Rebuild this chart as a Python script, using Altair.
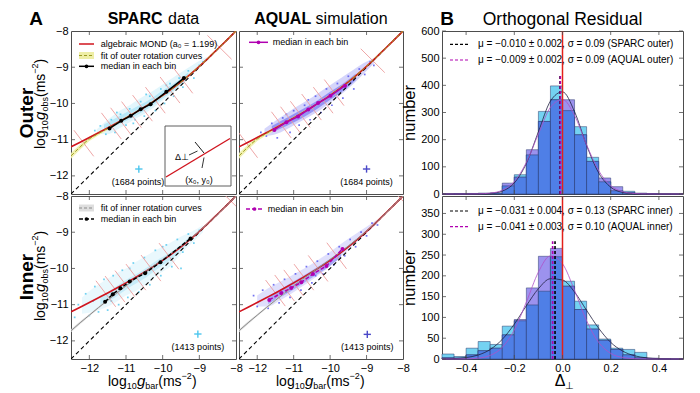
import altair as alt
import pandas as pd

FONT = "Liberation Sans"
RED = "#d0141e"
PINK = "#ec9c9c"
CYAN = "#4cc6ee"
AQC = "#5050ee"
MAG = "#b000b0"
OLIVE = "#9a9a22"
YEL = "#eeeea6"
GREY = "#8a8a8a"
LGREY = "#dedede"
FRAME = "#4d4d4d"
H_CYAN = "#74d2f2"
H_LAV = "#9c92ee"
H_BLUE = "#4f7fe6"
H_EDGE = "#28386a"

W_L, W_M, H = 165, 164, 163
W_H = 241
W_GAP = 33

# ---------------- scatter panels: curves ----------------
mond_x = [-12.5, -12.25, -12.0, -11.75, -11.5, -11.25, -11.0, -10.75, -10.5, -10.25,
          -10.0, -9.75, -9.5, -9.25, -9.0, -8.75, -8.5, -8.25, -8.0]
mond_y = [-11.199, -11.071, -10.941, -10.809, -10.676, -10.539, -10.399, -10.255, -10.104, -9.945,
          -9.777, -9.598, -9.405, -9.197, -8.975, -8.741, -8.497, -8.250, -8.0]
unity_x = [-12.5, -8.0]
unity_y = [-12.5, -8.0]

outer_fit_y = [-11.45, -11.20, -10.98, -10.83, -10.69, -10.545, -10.40, -10.255, -10.104, -9.945,
               -9.777, -9.598, -9.405, -9.197, -8.975, -8.741, -8.497, -8.25, -8.0]
outer_fit_lo = [-11.53, -11.27, -11.04, -10.88, -10.73, -10.58, -10.43, -10.285, -10.134, -9.975,
                -9.807, -9.628, -9.435, -9.227, -9.005, -8.771, -8.527, -8.28, -8.03]
outer_fit_hi = [-11.37, -11.13, -10.92, -10.78, -10.65, -10.51, -10.37, -10.225, -10.074, -9.915,
                -9.747, -9.568, -9.375, -9.167, -8.945, -8.711, -8.467, -8.22, -7.97]
inner_fit_y = [-11.72, -11.50, -11.29, -11.08, -10.88, -10.68, -10.48, -10.29, -10.11, -9.93,
               -9.75, -9.57, -9.38, -9.18, -8.97, -8.74, -8.50, -8.25, -8.0]
inner_fit_lo = [-11.76, -11.54, -11.32, -11.11, -10.91, -10.70, -10.50, -10.31, -10.13, -9.95,
                -9.77, -9.59, -9.40, -9.20, -8.99, -8.76, -8.52, -8.27, -8.02]
inner_fit_hi = [-11.68, -11.46, -11.26, -11.05, -10.85, -10.66, -10.46, -10.27, -10.09, -9.91,
                -9.73, -9.55, -9.36, -9.16, -8.95, -8.72, -8.48, -8.23, -7.98]

# medians in each bin
so_med_x = [-11.45, -11.13, -10.87, -10.60, -10.33, -9.90, -9.42]
so_med_y = [-10.69, -10.48, -10.34, -10.16, -10.02, -9.68, -9.30]
ao_med_x = [-11.53, -11.20, -10.88, -10.60, -10.33, -9.99, -9.59]
ao_med_y = [-10.73, -10.52, -10.36, -10.17, -9.99, -9.79, -9.51]
si_med_x = [-11.57, -11.36, -11.15, -10.90, -10.48, -10.06, -9.24]
si_med_y = [-10.92, -10.71, -10.55, -10.36, -10.13, -9.83, -9.17]
ai_med_x = [-11.67, -11.34, -11.07, -10.79, -10.47, -10.10, -9.66]
ai_med_y = [-10.87, -10.68, -10.54, -10.38, -10.15, -9.93, -9.46]

# data clouds (envelopes of the scatter)
so_cloud_x = [-11.8, -11.5, -11.2, -10.9, -10.6, -10.3, -10.0, -9.7, -9.4, -9.1, -8.8]
so_cloud_hi = [-10.72, -10.45, -10.22, -10.05, -9.85, -9.68, -9.48, -9.28, -9.08, -8.88, -8.72]
so_cloud_lo = [-10.82, -10.85, -10.70, -10.52, -10.35, -10.15, -9.92, -9.68, -9.42, -9.12, -8.82]
so_core_x = [-11.6, -11.2, -10.8, -10.4, -10.0, -9.6, -9.3]
so_core_hi = [-10.58, -10.36, -10.14, -9.92, -9.64, -9.38, -9.14]
so_core_lo = [-10.76, -10.58, -10.38, -10.14, -9.86, -9.56, -9.30]

ao_cloud_x = [-11.8, -11.5, -11.2, -10.9, -10.6, -10.3, -10.0, -9.7, -9.4, -9.1, -8.8]
ao_cloud_hi = [-10.70, -10.48, -10.28, -10.08, -9.90, -9.70, -9.50, -9.30, -9.10, -8.90, -8.75]
ao_cloud_lo = [-10.90, -10.85, -10.72, -10.55, -10.38, -10.20, -9.98, -9.75, -9.50, -9.20, -8.90]
ao_core_x = [-11.6, -11.2, -10.8, -10.4, -10.0, -9.6, -9.3]
ao_core_hi = [-10.62, -10.40, -10.18, -9.95, -9.68, -9.42, -9.18]
ao_core_lo = [-10.80, -10.62, -10.42, -10.18, -9.90, -9.62, -9.36]

si_cloud_x = [-12.2, -11.9, -11.6, -11.3, -11.0, -10.7, -10.4, -10.1, -9.8, -9.5, -9.2, -8.9]
si_cloud_hi = [-10.80, -10.55, -10.35, -10.15, -10.00, -9.80, -9.62, -9.45, -9.30, -9.12, -8.98, -8.80]
si_cloud_lo = [-11.25, -11.20, -11.10, -10.95, -10.75, -10.60, -10.40, -10.15, -9.95, -9.60, -9.30, -9.00]
si_core_x = [-11.7, -11.3, -10.9, -10.5, -10.1, -9.7, -9.3]
si_core_hi = [-10.80, -10.52, -10.26, -10.02, -9.74, -9.50, -9.16]
si_core_lo = [-11.02, -10.80, -10.52, -10.28, -9.98, -9.70, -9.30]

ai_cloud_x = [-12.0, -11.7, -11.4, -11.1, -10.8, -10.5, -10.2, -9.9, -9.6, -9.3, -9.0, -8.7]
ai_cloud_hi = [-10.75, -10.55, -10.38, -10.22, -10.05, -9.88, -9.68, -9.47, -9.25, -9.05, -8.85, -8.65]
ai_cloud_lo = [-11.05, -11.05, -10.90, -10.72, -10.52, -10.32, -10.10, -9.85, -9.58, -9.30, -9.03, -8.75]
ai_core_x = [-11.7, -11.3, -10.9, -10.5, -10.1, -9.7]
ai_core_hi = [-10.78, -10.54, -10.30, -10.06, -9.80, -9.52]
ai_core_lo = [-10.98, -10.76, -10.52, -10.26, -10.00, -9.70]

# scattered individual points around each cloud
so_pts_x = [-11.85, -11.7, -11.55, -11.4, -11.3, -11.15, -11.0, -10.9, -10.75, -10.6, -10.5, -10.35,
            -10.2, -10.05, -9.95, -9.8, -9.7, -9.55, -9.45, -9.3, -9.15, -9.0, -8.9, -10.45, -11.25,
            -10.8, -9.9]
so_pts_y = [-10.75, -10.62, -10.85, -10.45, -10.8, -10.3, -10.6, -10.15, -10.45, -9.95, -10.35, -9.8,
            -10.2, -9.6, -10.0, -9.45, -9.8, -9.3, -9.55, -9.1, -9.3, -8.95, -8.85, -9.75, -10.25,
            -10.55, -9.5]
ao_pts_x = [-11.9, -11.75, -11.6, -11.45, -11.3, -11.1, -11.0, -10.85, -10.7, -10.55, -10.4, -10.25,
            -10.1, -9.95, -9.8, -9.65, -9.5, -9.35, -9.2, -9.05, -8.9, -8.8, -10.6, -11.2]
ao_pts_y = [-10.8, -10.9, -10.55, -10.95, -10.4, -10.8, -10.2, -10.6, -10.05, -10.45, -9.8, -10.25,
            -9.6, -10.05, -9.45, -9.85, -9.25, -9.6, -9.05, -9.2, -8.85, -8.95, -9.9, -10.3]
si_pts_x = [-12.3, -12.1, -12.0, -11.85, -11.75, -11.6, -11.5, -11.35, -11.2, -11.1, -10.95, -10.8,
            -10.65, -10.5, -10.35, -10.2, -10.05, -9.9, -9.75, -9.6, -9.45, -9.3, -9.15, -9.0,
            -10.0, -10.9, -11.9, -11.4, -12.4, -9.5]
si_pts_y = [-11.0, -10.7, -11.3, -10.5, -11.2, -10.3, -11.15, -10.2, -11.0, -10.05, -10.8, -9.85,
            -10.65, -9.7, -10.45, -9.5, -10.2, -9.35, -9.95, -9.2, -9.55, -9.05, -9.3, -8.95,
            -9.4, -10.0, -10.9, -10.9, -11.35, -10.0]
ai_pts_x = [-12.1, -12.0, -11.85, -11.7, -11.55, -11.4, -11.25, -11.1, -10.95, -10.8, -10.65, -10.5,
            -10.35, -10.2, -10.05, -9.9, -9.75, -9.6, -9.45, -9.3, -9.15, -9.0, -8.85, -8.7,
            -11.2, -10.4]
ai_pts_y = [-10.75, -11.05, -10.6, -11.1, -10.45, -10.95, -10.3, -10.8, -10.15, -10.6, -9.95, -10.4,
            -9.8, -10.15, -9.6, -9.9, -9.4, -9.65, -9.2, -9.4, -9.0, -9.1, -8.75, -8.8,
            -10.65, -10.2]

# bin-boundary segments (x1, y1, x2, y2)
so_segs = [(-12.42, -10.74, -11.88, -11.46), (-11.67, -10.26, -11.13, -10.98),
           (-11.42, -10.12, -10.88, -10.84), (-11.12, -9.95, -10.58, -10.67),
           (-10.82, -9.77, -10.28, -10.49), (-10.47, -9.55, -9.93, -10.27),
           (-10.07, -9.27, -9.53, -9.99), (-9.72, -9.00, -9.18, -9.72),
           (-8.78, -8.12, -8.12, -8.78)]
ao_segs = [(-12.53, -10.78, -11.99, -11.50), (-11.61, -10.23, -11.07, -10.95),
           (-11.36, -10.09, -10.82, -10.81), (-11.09, -9.94, -10.55, -10.66),
           (-10.78, -9.74, -10.24, -10.46), (-10.46, -9.55, -9.92, -10.27),
           (-10.16, -9.34, -9.62, -10.06), (-9.16, -8.49, -8.50, -9.15)]
si_segs = [(-11.82, -10.34, -11.28, -11.06), (-11.57, -10.21, -11.03, -10.93),
           (-11.30, -10.06, -10.76, -10.78), (-11.00, -9.88, -10.46, -10.60),
           (-10.59, -9.63, -10.05, -10.35), (-10.10, -9.30, -9.56, -10.02),
           (-8.47, -7.81, -7.81, -8.47)]
ai_segs = [(-11.77, -10.32, -11.23, -11.04), (-11.52, -10.18, -10.98, -10.90),
           (-11.27, -10.04, -10.73, -10.76), (-10.99, -9.88, -10.45, -10.60),
           (-10.60, -9.64, -10.06, -10.36), (-10.09, -9.29, -9.55, -10.01),
           (-8.40, -7.74, -7.74, -8.40)]

# typical error crosses (x, y, half-width) and point-count labels (x, y)
so_cross = (-10.65, -11.81, 0.10)
ao_cross = (-9.00, -11.81, 0.10)
si_cross = (-9.04, -11.81, 0.10)
ai_cross = (-8.98, -11.82, 0.10)
so_label = (-10.67, -12.16, "(1684 points)")
ao_label = (-9.00, -12.16, "(1684 points)")
si_label = (-9.04, -12.16, "(1413 points)")
ai_label = (-8.98, -12.17, "(1413 points)")

# ---------------- histograms ----------------
BIN_W = 0.05
hist_bins = [-0.50, -0.45, -0.40, -0.35, -0.30, -0.25, -0.20, -0.15, -0.10, -0.05,
             0.00, 0.05, 0.10, 0.15, 0.20, 0.25, 0.30, 0.35, 0.40, 0.45]
sparc_outer_counts = [0, 1, 2, 3, 3, 30, 71, 144, 304, 398, 307, 248, 135, 45, 12, 10, 3, 1, 0, 0]
aqual_outer_counts = [0, 1, 1, 2, 3, 40, 62, 163, 267, 347, 347, 218, 120, 59, 27, 5, 2, 1, 0, 0]
sparc_inner_counts = [12, 6, 26, 42, 35, 79, 92, 130, 163, 246, 187, 139, 82, 48, 26, 23, 16, 2, 1, 0]
aqual_inner_counts = [3, 2, 10, 20, 26, 58, 95, 171, 247, 266, 175, 119, 72, 45, 23, 10, 3, 1, 0, 0]

gauss_x = [-0.50, -0.45, -0.40, -0.35, -0.30, -0.25, -0.20, -0.15, -0.10, -0.05, 0.00,
           0.05, 0.10, 0.15, 0.20, 0.25, 0.30, 0.35, 0.40, 0.45, 0.50]
gauss_sparc_outer = [0, 0, 0, 0.3, 2.1, 10.8, 40.7, 112.7, 229, 342, 376, 303, 179, 78, 25, 5.8, 1.0, 0.1, 0, 0, 0]
gauss_aqual_outer = [0, 0, 0.07, 0.6, 3.2, 14, 46, 116, 221, 319, 348, 289, 181, 86, 31, 8.5, 1.8, 0.3, 0, 0, 0]
gauss_sparc_inner = [0.3, 1.1, 3.5, 9.6, 22.9, 47.2, 83.8, 128, 169, 193, 190, 161, 117, 74, 40, 18.9, 7.6, 2.7, 0.8, 0.2, 0.05]
gauss_aqual_inner = [0, 0.05, 0.4, 2.1, 8.7, 28, 70, 137, 209, 248, 229, 165, 92, 40, 13.6, 3.6, 0.7, 0.1, 0, 0, 0]

mu_outer = (-0.010, -0.009)
mu_inner = (-0.031, -0.041)
mu_line_top = (436, 283)
legend_outer = ["\u03bc = \u22120.010 \u00b1 0.002, \u03c3 = 0.09 (SPARC outer)",
                "\u03bc = \u22120.009 \u00b1 0.002, \u03c3 = 0.09 (AQUAL outer)"]
legend_inner = ["\u03bc = \u22120.031 \u00b1 0.004, \u03c3 = 0.13 (SPARC inner)",
                "\u03bc = \u22120.041 \u00b1 0.003, \u03c3 = 0.10 (AQUAL inner)"]

ONE = pd.DataFrame({"k": [0]})


# ---------------- helpers ----------------
def ptext(s, x, y, size=9, align="left", baseline="middle", angle=0, weight="normal",
          style="normal", color="black"):
    return alt.Chart(pd.DataFrame({"t": [s]})).mark_text(
        font=FONT, fontSize=size, align=align, baseline=baseline, angle=angle,
        fontWeight=weight, fontStyle=style, color=color
    ).encode(x=alt.value(x), y=alt.value(y), text="t:N")


def prule(x1, y1, x2, y2, color="black", width=1.0, dash=None):
    kw = dict(color=color, strokeWidth=width)
    if dash:
        kw["strokeDash"] = dash
    return alt.Chart(ONE).mark_rule(**kw).encode(
        x=alt.value(x1), y=alt.value(y1), x2=alt.value(x2), y2=alt.value(y2))


def prect(x1, y1, x2, y2, color):
    return alt.Chart(ONE).mark_rect(color=color).encode(
        x=alt.value(x1), y=alt.value(y1), x2=alt.value(x2), y2=alt.value(y2))


def pdot(x, y, color, size=14):
    return alt.Chart(ONE).mark_point(filled=True, color=color, size=size, opacity=1).encode(
        x=alt.value(x), y=alt.value(y))


def ytitle(y0):
    # rotated "log10 g_obs (ms^-2)"
    return [
        ptext("log", -26, y0, 14, baseline="alphabetic", angle=270),
        ptext("10", -23, y0 - 18.7, 9, baseline="alphabetic", angle=270),
        ptext("g", -26, y0 - 29, 15, baseline="alphabetic", angle=270, style="italic"),
        ptext("obs", -23, y0 - 37.5, 9, baseline="alphabetic", angle=270),
        ptext("(ms", -26, y0 - 52, 14, baseline="alphabetic", angle=270),
        ptext("\u22122", -33, y0 - 75.3, 9, baseline="alphabetic", angle=270),
        ptext(")", -26, y0 - 85.6, 14, baseline="alphabetic", angle=270),
    ]


def xtitle():
    b = 190
    return [
        ptext("log", 37, b, 14, baseline="alphabetic"),
        ptext("10", 55.7, b + 3, 9, baseline="alphabetic"),
        ptext("g", 66, b, 15, baseline="alphabetic", style="italic"),
        ptext("bar", 74.3, b + 3, 9, baseline="alphabetic"),
        ptext("(ms", 87.3, b, 14, baseline="alphabetic"),
        ptext("\u22122", 110.6, b - 7, 9, baseline="alphabetic"),
        ptext(")", 121, b, 14, baseline="alphabetic"),
    ]


def scatter(w, xshow, yshow, cloud, core, pts, ccol, cop, fit, fcol, fdash, bcol,
            med, mcol, mdash, segs, cross, label, xcol):
    XS = alt.Scale(domain=[-12.5, -8.0], nice=False, zero=False)
    YS = alt.Scale(domain=[-12.5, -8.0], nice=False, zero=False)
    xax = alt.Axis(values=[-12, -11, -10, -9, -8], format="d", title=None) if xshow else None
    yax = alt.Axis(values=[-12, -11, -10, -9, -8], format="d", title=None) if yshow else None

    def X(f):
        return alt.X(f, type="quantitative", scale=XS, axis=xax)

    def Y(f):
        return alt.Y(f, type="quantitative", scale=YS, axis=yax)

    L = []
    L.append(alt.Chart(pd.DataFrame({"x": cloud[0], "lo": cloud[1], "hi": cloud[2]}))
             .mark_area(color=ccol, opacity=cop[0], interpolate="monotone", clip=True)
             .encode(x=X("x"), y=Y("lo"), y2=alt.Y2("hi")))
    L.append(alt.Chart(pd.DataFrame({"x": core[0], "lo": core[1], "hi": core[2]}))
             .mark_area(color=ccol, opacity=cop[1], interpolate="monotone", clip=True)
             .encode(x=X("x"), y=Y("lo"), y2=alt.Y2("hi")))
    L.append(alt.Chart(pd.DataFrame({"x": pts[0], "y": pts[1]}))
             .mark_square(color=ccol, size=3, opacity=0.8, clip=True)
             .encode(x=X("x"), y=Y("y")))
    L.append(alt.Chart(pd.DataFrame({"x": mond_x, "lo": fit[1], "hi": fit[2]}))
             .mark_area(color=bcol, opacity=0.9, clip=True)
             .encode(x=X("x"), y=Y("lo"), y2=alt.Y2("hi")))
    sdf = pd.DataFrame(segs, columns=["x1", "y1", "x2", "y2"])
    L.append(alt.Chart(sdf).mark_rule(color=PINK, strokeWidth=0.9, clip=True)
             .encode(x=X("x1"), y=Y("y1"), x2=alt.X2("x2"), y2=alt.Y2("y2")))
    L.append(alt.Chart(pd.DataFrame({"x": unity_x, "y": unity_y}))
             .mark_line(color="black", strokeWidth=1.1, strokeDash=[4, 3], clip=True)
             .encode(x=X("x"), y=Y("y")))
    L.append(alt.Chart(pd.DataFrame({"x": mond_x, "y": mond_y}))
             .mark_line(color=RED, strokeWidth=1.6, interpolate="monotone", clip=True)
             .encode(x=X("x"), y=Y("y")))
    fkw = dict(color=fcol, strokeWidth=1.0, interpolate="monotone", clip=True)
    if fdash:
        fkw["strokeDash"] = fdash
    L.append(alt.Chart(pd.DataFrame({"x": mond_x, "y": fit[0]}))
             .mark_line(**fkw).encode(x=X("x"), y=Y("y")))
    mkw = dict(color=mcol, strokeWidth=1.5,
               point=alt.OverlayMarkDef(color=mcol, filled=True, size=16))
    if mdash:
        mkw["strokeDash"] = mdash
    L.append(alt.Chart(pd.DataFrame({"x": med[0], "y": med[1]}))
             .mark_line(**mkw).encode(x=X("x"), y=Y("y")))
    cx, cy, d = cross
    cdf = pd.DataFrame({"x1": [cx - d, cx], "x2": [cx + d, cx],
                        "y1": [cy, cy - d], "y2": [cy, cy + d]})
    L.append(alt.Chart(cdf).mark_rule(color=xcol, strokeWidth=1.4)
             .encode(x=X("x1"), y=Y("y1"), x2=alt.X2("x2"), y2=alt.Y2("y2")))
    L.append(alt.Chart(pd.DataFrame({"x": [label[0]], "y": [label[1]], "t": [label[2]]}))
             .mark_text(font=FONT, fontSize=9, align="center", baseline="middle", color="black")
             .encode(x=X("x"), y=Y("y"), text="t:N"))
    tv = pd.DataFrame({"v": [-12, -11, -10, -9]})
    tk = dict(color=FRAME, strokeWidth=0.8)
    L.append(alt.Chart(tv).mark_rule(**tk).encode(x=X("v"), y=alt.value(H), y2=alt.value(H - 4)))
    L.append(alt.Chart(tv).mark_rule(**tk).encode(x=X("v"), y=alt.value(0), y2=alt.value(4)))
    L.append(alt.Chart(tv).mark_rule(**tk).encode(y=Y("v"), x=alt.value(0), x2=alt.value(4)))
    L.append(alt.Chart(tv).mark_rule(**tk).encode(y=Y("v"), x=alt.value(w - 4), x2=alt.value(w)))
    return L


def hist(ymax, yvals, xshow, sp, aq, gsp, gaq, mus, vtop, leg_y, leg_txt):
    XS = alt.Scale(domain=[-0.5, 0.5], nice=False, zero=False)
    YS = alt.Scale(domain=[0, ymax], nice=False, zero=False)
    xax = alt.Axis(values=[-0.4, -0.2, 0.0, 0.2, 0.4], format=".1f", title=None) if xshow else None
    yax = alt.Axis(values=yvals, format="d", title="number", titleFontSize=16.5,
                   titleFontWeight="normal", titlePadding=3, titleColor="black")

    def X(f):
        return alt.X(f, type="quantitative", scale=XS, axis=xax)

    def Y(f):
        return alt.Y(f, type="quantitative", scale=YS, axis=yax)

    df = pd.DataFrame({"l": hist_bins, "sp": sp, "aq": aq})
    df["r"] = df["l"] + BIN_W
    df["m"] = df[["sp", "aq"]].min(axis=1)
    df["z"] = 0
    L = []
    for col, colr in (("sp", H_CYAN), ("aq", H_LAV), ("m", H_BLUE)):
        L.append(alt.Chart(df).mark_rect(color=colr, stroke=H_EDGE, strokeWidth=0.5)
                 .encode(x=X("l"), x2=alt.X2("r"), y=Y(col), y2=alt.Y2("z")))
    gdf = pd.DataFrame({"x": gauss_x, "s": gsp, "a": gaq})
    L.append(alt.Chart(gdf).mark_line(color="#202040", strokeWidth=0.8, interpolate="monotone")
             .encode(x=X("x"), y=Y("s")))
    L.append(alt.Chart(gdf).mark_line(color="#b050c8", strokeWidth=0.8, interpolate="monotone")
             .encode(x=X("x"), y=Y("a")))
    vdf = pd.DataFrame({"x": [mus[0]], "y0": [0], "y1": [vtop]})
    L.append(alt.Chart(vdf).mark_rule(color="black", strokeWidth=1.6, strokeDash=[3, 2])
             .encode(x=X("x"), y=Y("y0"), y2=alt.Y2("y1")))
    vdf2 = pd.DataFrame({"x": [mus[1]], "y0": [0], "y1": [vtop]})
    L.append(alt.Chart(vdf2).mark_rule(color=MAG, strokeWidth=1.6, strokeDash=[3, 2])
             .encode(x=X("x"), y=Y("y0"), y2=alt.Y2("y1")))
    rdf = pd.DataFrame({"x": [0.0], "y0": [0], "y1": [ymax]})
    L.append(alt.Chart(rdf).mark_rule(color="#e3201a", strokeWidth=1.5)
             .encode(x=X("x"), y=Y("y0"), y2=alt.Y2("y1")))
    # legend
    L.append(prule(8, leg_y[0], 26, leg_y[0], "black", 1.2, [3, 2]))
    L.append(prule(8, leg_y[1], 26, leg_y[1], MAG, 1.2, [3, 2]))
    L.append(ptext(leg_txt[0], 36, leg_y[0], 10))
    L.append(ptext(leg_txt[1], 36, leg_y[1], 10))
    # inward ticks
    tk = dict(color=FRAME, strokeWidth=0.8)
    xt = pd.DataFrame({"v": [-0.4, -0.2, 0.0, 0.2, 0.4]})
    yt = pd.DataFrame({"v": yvals})
    L.append(alt.Chart(xt).mark_rule(**tk).encode(x=X("v"), y=alt.value(H), y2=alt.value(H - 4)))
    L.append(alt.Chart(xt).mark_rule(**tk).encode(x=X("v"), y=alt.value(0), y2=alt.value(4)))
    L.append(alt.Chart(yt).mark_rule(**tk).encode(y=Y("v"), x=alt.value(0), x2=alt.value(4)))
    L.append(alt.Chart(yt).mark_rule(**tk).encode(y=Y("v"), x=alt.value(W_H - 4), x2=alt.value(W_H)))
    return L


# ---------------- panels ----------------
so_layers = scatter(W_L, False, True,
                    (so_cloud_x, so_cloud_lo, so_cloud_hi), (so_core_x, so_core_lo, so_core_hi),
                    (so_pts_x, so_pts_y), CYAN, (0.16, 0.28),
                    (outer_fit_y, outer_fit_lo, outer_fit_hi), OLIVE, [4, 2], YEL,
                    (so_med_x, so_med_y), "black", None, so_segs, so_cross, so_label, CYAN)
so_layers += [
    # inset schematic
    prect(94, 95, 160, 155, "white"),
    prule(94, 95, 160, 95, FRAME, 0.9), prule(94, 155, 160, 155, FRAME, 0.9),
    prule(94, 95, 94, 155, FRAME, 0.9), prule(160, 95, 160, 155, FRAME, 0.9),
    prule(95, 146, 159, 107.5, RED, 1.4),
    prule(124, 111, 133, 122, "black", 0.9),
    prule(118, 124, 126.5, 120, "black", 0.8),
    prule(131, 137, 133, 126.5, "black", 0.8),
    ptext("\u0394\u22a5", 111, 126, 9, align="center"),
    ptext("(x\u2080, y\u2080)", 128, 148.5, 9, align="center"),
    # legend
    prule(8, 13, 23, 13, RED, 1.5),
    ptext("algebraic MOND (a\u2080 = 1.199)", 29.7, 13, 9),
    prect(8, 21, 23, 28, YEL),
    prule(8, 24.5, 23, 24.5, OLIVE, 1.1, [3, 2]),
    ptext("fit of outer rotation curves", 29.7, 24.5, 9),
    prule(8, 35.3, 23, 35.3, "black", 1.5),
    pdot(15.5, 35.3, "black"),
    ptext("median in each bin", 29.7, 35.3, 9),
    # labels
    ptext("Outer", -38, 82, 19, align="center", baseline="alphabetic", angle=270, weight="bold"),
    ptext("A", -35, -6, 19, align="center", baseline="alphabetic", weight="bold"),
    ptext("SPARC", 36.7, -7, 16, baseline="alphabetic", weight="bold"),
    ptext("data", 97.1, -7, 16, baseline="alphabetic"),
] + ytitle(118)
tl = alt.layer(*so_layers).properties(width=W_L, height=H)

ao_layers = scatter(W_M, False, False,
                    (ao_cloud_x, ao_cloud_lo, ao_cloud_hi), (ao_core_x, ao_core_lo, ao_core_hi),
                    (ao_pts_x, ao_pts_y), AQC, (0.24, 0.48),
                    (outer_fit_y, outer_fit_lo, outer_fit_hi), OLIVE, [4, 2], YEL,
                    (ao_med_x, ao_med_y), MAG, None, ao_segs, ao_cross, ao_label, "#4a48c8")
ao_layers += [
    prule(10, 11.3, 29, 11.3, MAG, 1.5),
    pdot(19.5, 11.3, MAG),
    ptext("median in each bin", 33.7, 11.3, 9),
    ptext("AQUAL", 15.3, -7, 16, baseline="alphabetic", weight="bold"),
    ptext("simulation", 76.6, -7, 16, baseline="alphabetic"),
]
tm = alt.layer(*ao_layers).properties(width=W_M, height=H)

si_layers = scatter(W_L, True, True,
                    (si_cloud_x, si_cloud_lo, si_cloud_hi), (si_core_x, si_core_lo, si_core_hi),
                    (si_pts_x, si_pts_y), CYAN, (0.12, 0.22),
                    (inner_fit_y, inner_fit_lo, inner_fit_hi), GREY, None, LGREY,
                    (si_med_x, si_med_y), "black", [4, 2], si_segs, si_cross, si_label, CYAN)
si_layers += [
    prect(8, 8.5, 23, 15.5, LGREY),
    prule(8, 12, 23, 12, GREY, 1.1, [3, 2]),
    ptext("fit of inner rotation curves", 29.7, 12, 9),
    prule(8, 23, 23, 23, "black", 1.5, [4, 2]),
    pdot(15.5, 23, "black"),
    ptext("median in each bin", 29.7, 23, 9),
    ptext("Inner", -38, 81, 19, align="center", baseline="alphabetic", angle=270, weight="bold"),
] + ytitle(125) + xtitle()
bl = alt.layer(*si_layers).properties(width=W_L, height=H)

ai_layers = scatter(W_M, True, False,
                    (ai_cloud_x, ai_cloud_lo, ai_cloud_hi), (ai_core_x, ai_core_lo, ai_core_hi),
                    (ai_pts_x, ai_pts_y), AQC, (0.18, 0.38),
                    (inner_fit_y, inner_fit_lo, inner_fit_hi), GREY, None, LGREY,
                    (ai_med_x, ai_med_y), MAG, [4, 2], ai_segs, ai_cross, ai_label, "#4a48c8")
ai_layers += [
    prule(7, 13, 24, 13, MAG, 1.5, [4, 2]),
    pdot(15.5, 13, MAG),
    ptext("median in each bin", 28.7, 13, 9),
] + xtitle()
bm = alt.layer(*ai_layers).properties(width=W_M, height=H)

ho_layers = hist(600, [0, 100, 200, 300, 400, 500, 600], False,
                 sparc_outer_counts, aqual_outer_counts, gauss_sparc_outer, gauss_aqual_outer,
                 mu_outer, mu_line_top[0], (13.3, 29), legend_outer)
ho_layers += [
    ptext("B", 5, -6, 19, align="center", baseline="alphabetic", weight="bold"),
    ptext("Orthogonal Residual", 120.5, -6, 17.5, align="center", baseline="alphabetic"),
]
th = alt.layer(*ho_layers).properties(width=W_H, height=H)

hi_layers = hist(392, [0, 50, 100, 150, 200, 250, 300, 350], True,
                 sparc_inner_counts, aqual_inner_counts, gauss_sparc_inner, gauss_aqual_inner,
                 mu_inner, mu_line_top[1], (15, 30.7), legend_inner)
hi_layers += [
    ptext("\u0394", 118, 190, 16, align="center", baseline="alphabetic"),
    ptext("\u22a5", 127, 193, 10, align="center", baseline="alphabetic"),
]
bh = alt.layer(*hi_layers).properties(width=W_H, height=H)


def spacer():
    return (alt.Chart(ONE).mark_point(opacity=0)
            .encode(x=alt.value(0), y=alt.value(0))
            .properties(width=W_GAP, height=H, view=alt.ViewBackground(strokeOpacity=0)))


chart = (
    alt.concat(tl, tm, spacer(), th, bl, bm, spacer(), bh, columns=4,
               spacing=alt.RowColnumber(row=2, column=3), bounds="flush", align="each")
    .properties(padding={"left": 9, "top": 1, "right": 2, "bottom": 0})
    .configure(font=FONT, background="white")
    .configure_view(stroke=FRAME, strokeWidth=1)
    .configure_axis(grid=False, domain=False, ticks=False, tickSize=0, labelFont=FONT,
                    labelFontSize=11, labelColor="black", labelPadding=3, labelFlush=False,
                    titleFont=FONT)
)

chart.save("out.html", embed_options={"renderer": "svg", "actions": False})
